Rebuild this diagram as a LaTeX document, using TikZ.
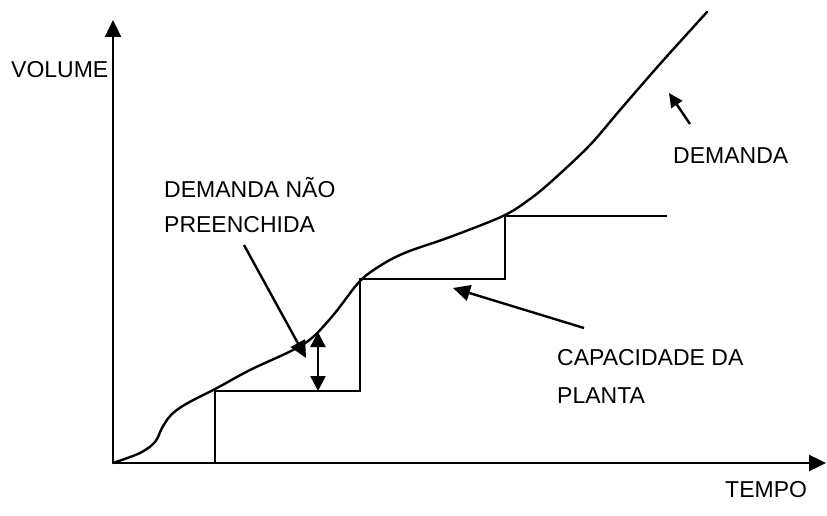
\documentclass[tikz,border=0pt]{standalone}
\usepackage{fontspec}
\setmainfont{Liberation Sans}
\usetikzlibrary{arrows.meta}
\begin{document}
\begin{tikzpicture}[x=1pt,y=-1pt,
  line width=2.4pt, line cap=round, line join=round,
  tip/.style={-{Triangle[length=17pt,width=16pt]}},
  lbl/.style={font=\fontsize{23}{27}\selectfont, inner sep=0pt, align=left}]
\useasboundingbox (0,0) rectangle (827,516);
% axes
\coordinate (O) at (113,463);
\coordinate (ytop) at (113,20);
\coordinate (xend) at (826,463);
\draw[tip, line cap=butt] (O) -- (ytop);
\draw[tip, line cap=butt] (O) -- (xend);
% plant capacity steps
\coordinate (s0) at (215,463);
\coordinate (s1) at (215,391);
\coordinate (s2) at (360,391);
\coordinate (s3) at (360,279);
\coordinate (s4) at (505,279);
\coordinate (s5) at (505,216);
\coordinate (s6) at (667,216);
\draw[line join=miter, line cap=butt] (s0) -- (s1) -- (s2) -- (s3) -- (s4) -- (s5) -- (s6);
% demand curve
\draw plot[smooth, tension=0.55] coordinates {(113,463) (140,453) (155,442) (162,428) (171,415) (186,404) (217,388) (250,370) (293,350) (313,337) (335,313) (360,281) (383,264) (407,252) (450,237) (503,216) (530,199) (553,180) (590,145) (620,110) (660,64) (707,12)};
% unmet demand double arrow
\coordinate (ua) at (318,332);
\coordinate (ub) at (318,391);
\draw[{Triangle[length=15pt,width=15pt]}-{Triangle[length=15pt,width=15pt]}, line cap=butt] (ua) -- (ub);
% labels
\node[lbl, anchor=west] (vol) at (10,70) {VOLUME};
\node[lbl, anchor=west] (dnp1) at (163,188) {DEMANDA NÃO};
\node[lbl, anchor=west] (dnp2) at (163,225) {PREENCHIDA};
\node[lbl, anchor=west] (dem) at (672,156) {DEMANDA};
\node[lbl, anchor=west] (cap1) at (556,358) {CAPACIDADE DA};
\node[lbl, anchor=west] (cap2) at (556,396) {PLANTA};
\node[lbl, anchor=west] (tempo) at (724,490) {TEMPO};
% pointer arrows
\coordinate (pa) at (244,245);
\coordinate (pb) at (306,358);
\draw[tip, line cap=butt] (pa) -- (pb);
\coordinate (ca) at (584,328);
\coordinate (cb) at (453,288);
\draw[tip, line cap=butt] (ca) -- (cb);
\coordinate (da) at (690,124);
\coordinate (db) at (669,93);
\draw[-{Triangle[length=14pt,width=13pt]}, line cap=butt] (da) -- (db);
\end{tikzpicture}
\end{document}
